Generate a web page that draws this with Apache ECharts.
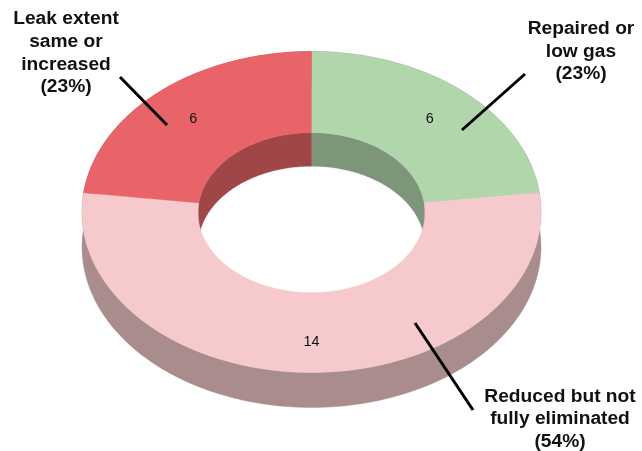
<!DOCTYPE html>
<html>
<head>
<meta charset="utf-8">
<style>html,body{margin:0;padding:0;background:#fff}#c{width:642px;height:451px}</style>
<script src="https://cdn.jsdelivr.net/npm/echarts@6/dist/echarts.min.js"></script>
</head>
<body>
<div id="c"></div>
<script>
const categories = ['Repaired or low gas', 'Reduced but not fully eliminated', 'Leak extent same or increased'];
const values = [6, 14, 6];
const percentLabels = ['(23%)', '(54%)', '(23%)'];
const topColors = ['#B1D6AC', '#F6CACC', '#E96468'];
const wallColors = ['#7D9679', '#A98C8C', '#A04648'];

const CX = 311.5, CY = 212, RX = 229.5, RY = 160.5, IRX = 113.5, IRY = 80, ICY = 212.6;
const DEPTH = 35, IDEPTH = 33.6;
const LABEL_FRAC = [0.78, 0.805, 0.78];
const total = values.reduce((a, b) => a + b, 0);

function sliceRange(i) {
  let s = 0;
  for (let k = 0; k < i; k++) s += values[k];
  return [s / total * Math.PI * 2, (s + values[i]) / total * Math.PI * 2];
}
function arc(a0, a1, rx, ry, cy, dy) {
  const n = Math.max(2, Math.ceil(Math.abs(a1 - a0) * 60));
  const pts = [];
  for (let j = 0; j <= n; j++) {
    const t = a0 + (a1 - a0) * j / n;
    pts.push([CX + rx * Math.sin(t), cy - ry * Math.cos(t) + dy]);
  }
  return pts;
}
function poly(points, color) {
  return { type: 'polygon', shape: { points }, style: { fill: color, stroke: color, lineWidth: 0.4 } };
}
function backRanges(a0, a1) {
  // parts of a slice whose inner wall faces the viewer (far half of the hole)
  const out = [];
  const e0 = Math.min(a1, Math.PI / 2);
  if (a0 < e0) out.push([a0, e0]);
  const s1 = Math.max(a0, Math.PI * 1.5);
  if (s1 < a1) out.push([s1, a1]);
  return out;
}
const rows = categories.map((c, i) => [c, values[i]]);

function renderWalls(params) {
  const i = params.dataIndex;
  const [a0, a1] = sliceRange(i);
  const children = [];
  const outer = arc(a0, a1, RX, RY, CY, 0);
  const outerLow = arc(a1, a0, RX, RY, CY, DEPTH);
  children.push(poly(outer.concat(outerLow), wallColors[i]));
  backRanges(a0, a1).forEach(([b0, b1]) => {
    const up = arc(b0, b1, IRX, IRY, ICY, 0);
    const low = arc(b1, b0, IRX, IRY, ICY, IDEPTH);
    children.push(poly(up.concat(low), wallColors[i]));
  });
  return { type: 'group', children };
}
function renderTops(params) {
  const i = params.dataIndex;
  const [a0, a1] = sliceRange(i);
  const pts = arc(a0, a1, RX, RY, CY, 0).concat(arc(a1, a0, IRX, IRY, ICY, 0));
  return poly(pts, topColors[i]);
}
function renderValues(params, api) {
  const i = params.dataIndex;
  const [a0, a1] = sliceRange(i);
  const m = (a0 + a1) / 2;
  return {
    type: 'text',
    x: CX + RX * LABEL_FRAC[i] * Math.sin(m) + (i === 0 ? -0.5 : i === 2 ? 0.5 : 0),
    y: CY - RY * LABEL_FRAC[i] * Math.cos(m) + 0.5,
    style: {
      text: String(api.value(1)), fill: '#111',
      font: '14.4px "Liberation Sans", Arial, sans-serif',
      align: 'center', verticalAlign: 'middle'
    }
  };
}
function custom(renderItem, z) {
  return { type: 'custom', coordinateSystem: 'none', silent: true, z, data: rows, renderItem, animation: false };
}
function callout(x, y, text) {
  return {
    type: 'text', x, y, z: 20, silent: true,
    style: {
      text, fill: '#111', align: 'center', verticalAlign: 'middle',
      font: 'bold 19.2px "Liberation Sans", Arial, sans-serif', lineHeight: 22.7
    }
  };
}
function leader(x1, y1, x2, y2) {
  return {
    type: 'line', z: 20, silent: true,
    shape: { x1, y1, x2, y2 },
    style: { stroke: '#000', lineWidth: 3, lineCap: 'butt' }
  };
}
const chart = echarts.init(document.getElementById('c'), null, { renderer: 'canvas' });
chart.setOption({
  animation: false,
  backgroundColor: '#fff',
  series: [custom(renderWalls, 1), custom(renderTops, 2), custom(renderValues, 3)],
  graphic: [
    leader(120, 77, 167, 125),
    leader(525, 74, 462, 130),
    leader(415, 323, 473, 410),
    callout(66, 53, 'Leak extent\nsame or\nincreased\n' + percentLabels[2]),
    callout(581, 51.5, 'Repaired or\nlow gas\n' + percentLabels[0]),
    callout(560, 419, 'Reduced but not\nfully eliminated\n' + percentLabels[1])
  ]
});
</script>
</body>
</html>
